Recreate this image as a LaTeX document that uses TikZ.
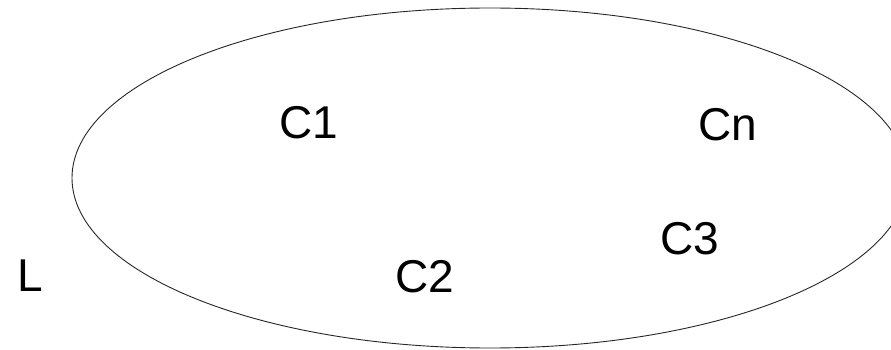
\documentclass[tikz,border=0pt]{standalone}
\usepackage{fontspec}
\setmainfont{Liberation Sans}
\usetikzlibrary{shapes.geometric}
\begin{document}
\begin{tikzpicture}[x=1pt,y=-1pt,
  lbl/.style={font=\fontsize{46}{50}\selectfont, inner sep=0pt, anchor=base},
  setline/.style={draw=black!85, line width=0.9pt}]
\useasboundingbox (0,0) rectangle (891,350);
\clip (0,0) rectangle (891,350);
% the set L drawn as an ellipse
\node[setline, ellipse, minimum width=836pt, minimum height=340pt, inner sep=0pt] (set) at (490,178) {};
% its elements
\node[lbl] (c1) at (309,139) {C1};
\node[lbl] (c2) at (425,292) {C2};
\node[lbl] (c3) at (690,254) {C3};
\node[lbl] (cn) at (728,141) {Cn};
\node[lbl] (l) at (30,291) {L};
\end{tikzpicture}
\end{document}
